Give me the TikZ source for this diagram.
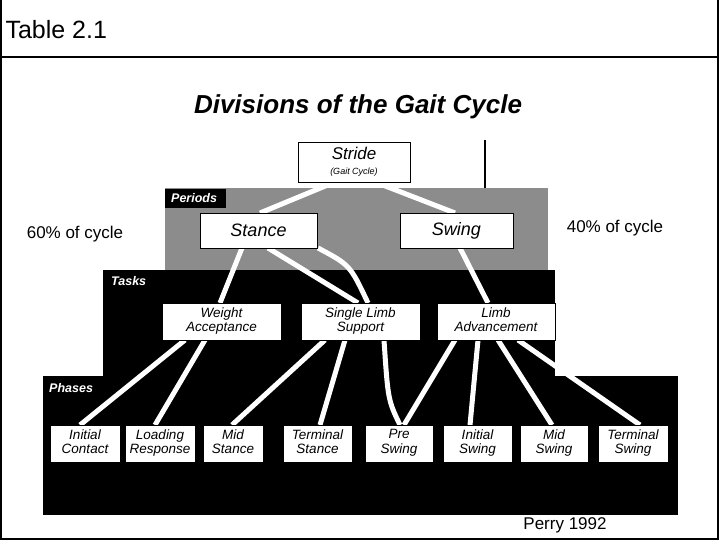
\documentclass[tikz,border=0pt]{standalone}
\usepackage{fontspec}
\setmainfont{Liberation Sans}
\newcommand{\twol}[2]{\strut #1\\\strut #2}
\begin{document}
\begin{tikzpicture}[x=1pt,y=-1pt,
  bx/.style={draw=black,fill=white,inner sep=0pt,font=\itshape\fontsize{13.5}{13}\selectfont,align=center},
  wl/.style={draw=white,line width=5pt},
  tab/.style={text=white,font=\bfseries\itshape\fontsize{12.5}{12}\selectfont,anchor=west,inner sep=1pt}]
\useasboundingbox (0,0) rectangle (720,540);
\fill[white] (0,0) rectangle (720,540);
\draw[line width=1.5pt] (1,0) -- (1,539) -- (718,539) -- (718,0);
\draw[line width=1.5pt] (1,57) -- (718,57);
\node[anchor=west,font=\fontsize{25}{25}\selectfont] (tbl) at (2,30) {Table 2.1};
\node[font=\bfseries\itshape\fontsize{26}{26}\selectfont] (title) at (358,107) {Divisions of the Gait Cycle};
% regions
\fill[black!45] (165,188) rectangle (548,270);
\fill[black] (103,270) rectangle (555,376);
\fill[black] (43,376) rectangle (678,515);
\fill[black] (165,189) rectangle (226,208);
\node[tab] (per) at (170,198) {Periods};
\node[tab] (tsk) at (110,281) {Tasks};
\node[tab] (phs) at (48,388) {Phases};
\coordinate (vt) at (485,140); \coordinate (vb) at (485,188);
\draw[line width=1.2pt] (vt) -- (vb);
% connectors
\coordinate (s1) at (335,182); \coordinate (s2) at (375,182);
\coordinate (st1) at (260,213); \coordinate (sw1) at (455,213);
\draw[wl] (s1) -- (st1); \draw[wl] (s2) -- (sw1);
\coordinate (a1) at (242,248); \coordinate (a2) at (220,303);
\draw[wl] (a1) -- (a2);
\coordinate (b1) at (268,248); \coordinate (b2) at (358,303);
\draw[wl] (b1) -- (b2);
\coordinate (c1) at (318,248); \coordinate (c2) at (368,303);
\draw[wl] (c1) .. controls (350,265) .. (c2);
\coordinate (d1) at (460,248); \coordinate (d2) at (488,303);
\draw[wl] (d1) -- (d2);
% tasks to phases
\draw[wl] (185,340) -- (80,425);
\draw[wl] (205,340) -- (155,425);
\draw[wl] (325,340) -- (232,425);
\draw[wl] (345,340) -- (320,425);
\draw[wl] (384,340) .. controls (388,400) .. (400,425);
\draw[wl] (455,340) -- (404,425);
\draw[wl] (478,340) -- (470,425);
\draw[wl] (498,340) -- (552,425);
\draw[wl] (518,340) -- (640,425);
% boxes
\node[bx,minimum width=112,minimum height=40,font=\itshape\fontsize{17}{15}\selectfont] (stride) at (354,162) {Stride\\{\fontsize{9}{9}\selectfont(Gait Cycle)}};
\node[bx,minimum width=117,minimum height=35,font=\itshape\fontsize{18}{18}\selectfont] (stance) at (258.5,230.5) {Stance};
\node[bx,minimum width=113,minimum height=35,font=\itshape\fontsize{18}{18}\selectfont] (swing) at (456.5,230.5) {Swing};
\node[bx,minimum width=119,minimum height=37] (wa) at (221.5,321.5) {\twol{Weight}{Acceptance}};
\node[bx,minimum width=119,minimum height=37] (sls) at (360.5,321.5) {\twol{Single Limb}{Support}};
\node[bx,minimum width=118,minimum height=37] (la) at (496,321.5) {\twol{Limb}{Advancement}};
\foreach \n/\x/\w/\ta/\tb in {ic/85/70/Initial/Contact,lr/160/70/Loading/Response,ms/233/60/Mid/Stance,ts/317.5/69/Terminal/Stance,ps/399/68/Pre/Swing,is/477.5/69/Initial/Swing,mw/554/68/Mid/Swing,tw/633/70/Terminal/Swing}
  \node[bx,minimum width=\w,minimum height=37] (\n) at (\x,443.5) {\twol{\ta}{\tb}};
\node[font=\fontsize{17}{17}\selectfont] (p60) at (75,234) {60\% of cycle};
\node[font=\fontsize{17}{17}\selectfont] (p40) at (615,228) {40\% of cycle};
\node[font=\fontsize{17}{17}\selectfont] (perry) at (565,525) {Perry 1992};
\end{tikzpicture}
\end{document}
